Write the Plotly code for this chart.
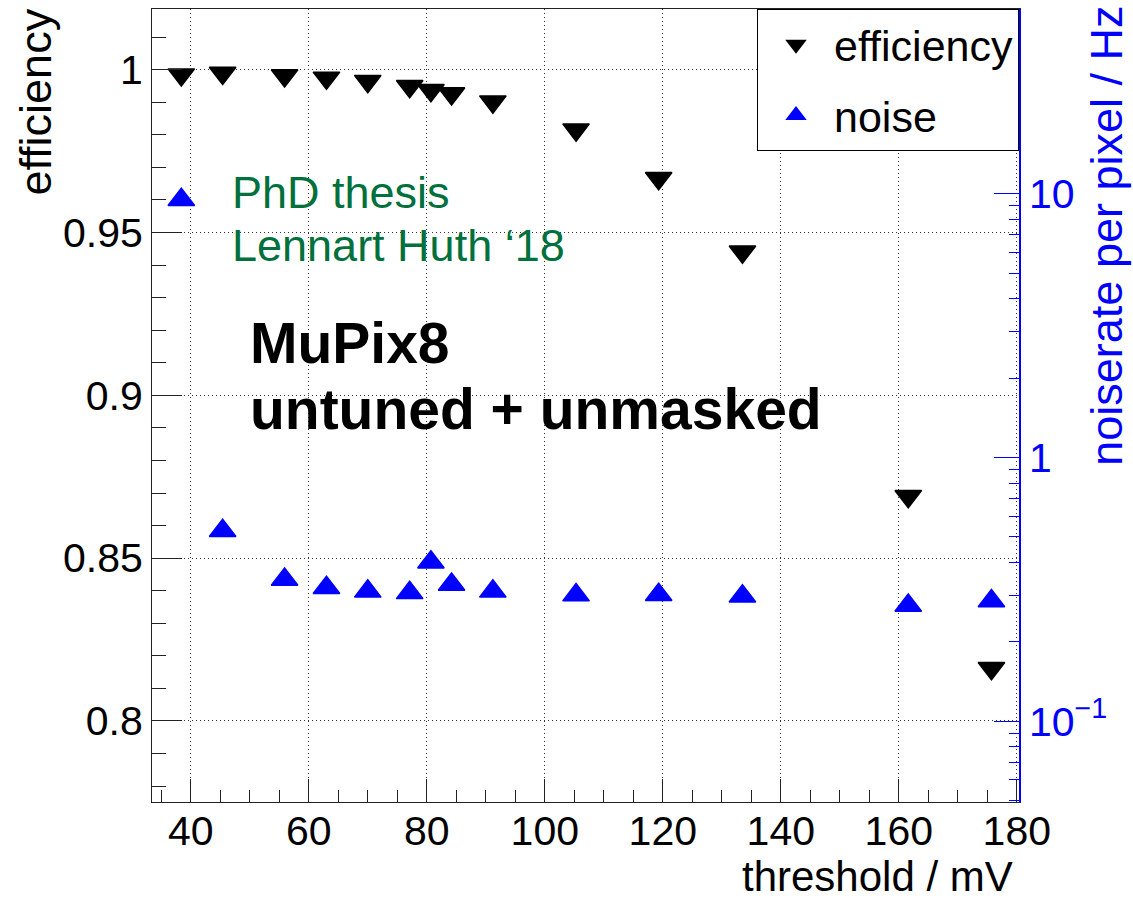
import plotly.graph_objects as go

# ---- data ----
threshold_mV = [38.4, 45.4, 55.9, 63.0, 70.0, 77.1, 80.7, 84.2, 91.2,
                105.3, 119.3, 133.5, 161.6, 175.7]
efficiency = [0.9985, 0.9990, 0.9982, 0.9975, 0.9965, 0.9949, 0.9937, 0.9927, 0.9902,
              0.9816, 0.9667, 0.9441, 0.8690, 0.8162]
noise_Hz = [9.5, 0.528, 0.345, 0.321, 0.311, 0.307, 0.401, 0.330, 0.311,
            0.301, 0.302, 0.298, 0.275, 0.286]

eff_tick_vals = [0.8, 0.85, 0.9, 0.95, 1.0]
eff_tick_text = ["0.8", "0.85", "0.9", "0.95", "1"]
x_tick_vals = [40, 60, 80, 100, 120, 140, 160, 180]
x_tick_text = ["40", "60", "80", "100", "120", "140", "160", "180"]
noise_tick_vals = [0.1, 1, 10]
noise_tick_text = ["10<sup>−1</sup>", "1", "10"]
noise_minor_vals = [k * 10.0 ** e for e in (-2, -1, 0, 1) for k in range(2, 10)]

FONT = "Liberation Sans, Arial, Helvetica, sans-serif"
BLUE = "#0000ff"
GRID = dict(showgrid=True, gridcolor="#333", griddash="1px,3px", gridwidth=1)

fig = go.Figure()
fig.add_trace(go.Scatter(
    x=threshold_mV, y=efficiency, mode="markers", name="efficiency",
    marker=dict(symbol="triangle-down", size=23, color="black",
                line=dict(color="black", width=1.5)),
    legendgroup="a"))
fig.add_trace(go.Scatter(
    x=threshold_mV, y=noise_Hz, mode="markers", name="noise", yaxis="y2",
    marker=dict(symbol="triangle-up", size=23, color=BLUE,
                line=dict(color=BLUE, width=1.5)),
    legendgroup="b"))

fig.update_layout(
    width=1133, height=902,
    margin=dict(l=152, r=114, t=9, b=100),
    paper_bgcolor="white", plot_bgcolor="white",
    font=dict(family=FONT, size=41, color="black"),
    showlegend=True,
    legend=dict(x=1, y=1, xanchor="right", yanchor="top",
                bordercolor="black", borderwidth=1, bgcolor="white",
                font=dict(size=43), tracegroupgap=12, itemsizing="trace",
                itemwidth=66),
    xaxis=dict(range=[33.43, 180.37], tickmode="array",
               tickvals=x_tick_vals, ticktext=x_tick_text,
               ticks="inside", ticklen=23, tickcolor="#222", tickwidth=1,
               ticklabelstandoff=-7,
               showline=True, linecolor="#222", linewidth=1, mirror=True,
               zeroline=False, **GRID,
               minor=dict(tickmode="linear", tick0=0, dtick=5, ticks="inside",
                          ticklen=12, tickcolor="#222", showgrid=False)),
    yaxis=dict(range=[0.7751, 1.01866], tickmode="array",
               tickvals=eff_tick_vals, ticktext=eff_tick_text,
               ticks="inside", ticklen=30, tickcolor="#222", tickwidth=1,
               showline=True, linecolor="#222", linewidth=1,
               zeroline=False, **GRID,
               minor=dict(tickmode="linear", tick0=0.8, dtick=0.01, ticks="inside",
                          ticklen=14, tickcolor="#222", showgrid=False)),
    yaxis2=dict(overlaying="y", side="right", type="log",
                range=[-1.306, 1.701], tickmode="array",
                tickvals=noise_tick_vals, ticktext=noise_tick_text,
                ticks="inside", ticklen=25, tickcolor=BLUE, tickwidth=1,
                tickfont=dict(color=BLUE, size=41),
                showline=True, linecolor=BLUE, linewidth=1.5,
                showgrid=False, zeroline=False,
                minor=dict(tickmode="array", tickvals=noise_minor_vals,
                           ticks="inside", ticklen=10, tickcolor=BLUE,
                           showgrid=False)),
)

ann = [
    dict(text="efficiency", x=-0.1345, y=1.0016, xanchor="center", yanchor="top",
         textangle=-90, font=dict(size=45, color="black")),
    dict(text="noiserate per pixel / Hz", x=1.1015, y=1.0054, xanchor="center",
         yanchor="top", textangle=-90, font=dict(size=45, color=BLUE)),
    dict(text="threshold / mV", x=0.9948, y=-0.1245, xanchor="right",
         yanchor="bottom", font=dict(size=42, color="black")),
    dict(text="PhD thesis", x=0.0914, y=0.7689, xanchor="left", yanchor="middle",
         font=dict(size=45, color="#00703c")),
    dict(text="Lennart Huth ‘18", x=0.0914, y=0.7013, xanchor="left",
         yanchor="middle", font=dict(size=45, color="#00703c")),
    dict(text="<b>MuPix8</b>", x=0.1121, y=0.5784, xanchor="left",
         yanchor="middle", font=dict(size=57, color="black")),
    dict(text="<b>untuned + unmasked</b>", x=0.1121, y=0.4956, xanchor="left",
         yanchor="middle", font=dict(size=57, color="black")),
]
for a in ann:
    a.update(xref="paper", yref="paper", showarrow=False, borderpad=0)
    fig.add_annotation(**a)

fig.write_html("out.html")
